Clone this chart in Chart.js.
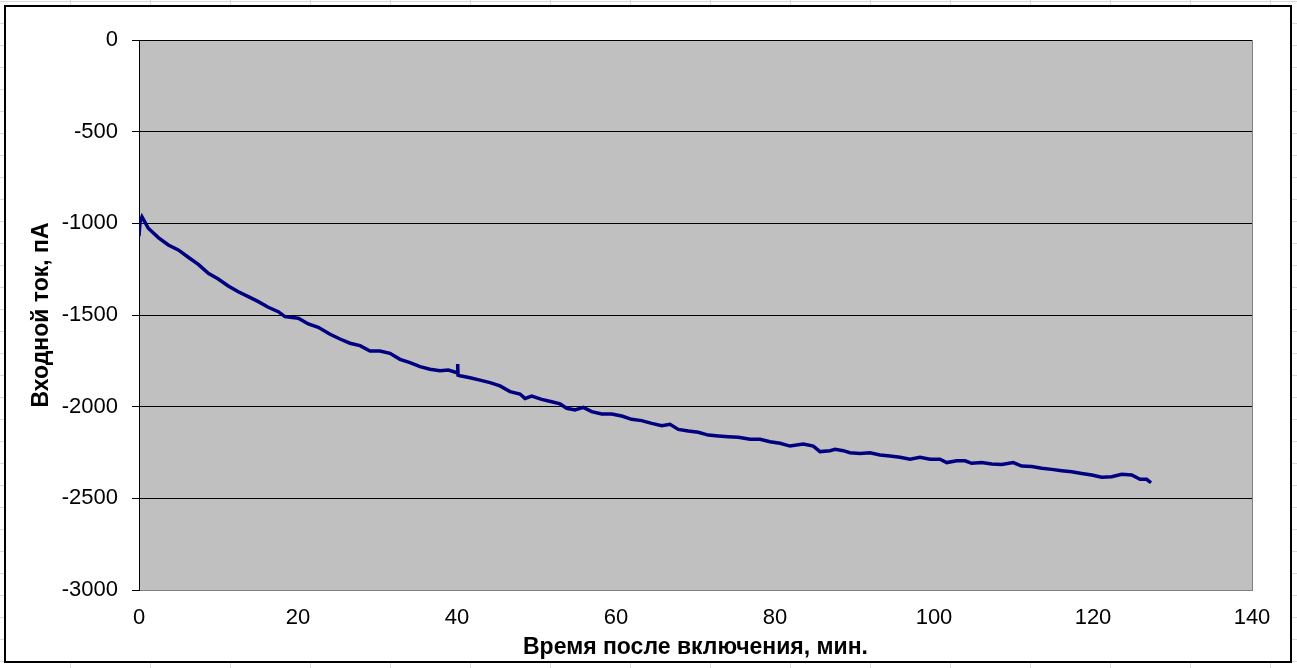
<!DOCTYPE html>
<html lang="ru">
<head>
<meta charset="utf-8">
<title>Входной ток</title>
<script src="https://cdn.jsdelivr.net/npm/chart.js@4.4.1/dist/chart.umd.min.js"></script>
<style>
  html, body {
    margin: 0;
    padding: 0;
    width: 1297px;
    height: 668px;
    overflow: hidden;
    font-family: "Liberation Sans", Arial, sans-serif;
    background-color: #fff;
    /* клетки листа Excel за диаграммой */
    background-image:
      linear-gradient(to right, #dadada 1px, transparent 1px),
      linear-gradient(to bottom, #dadada 1px, transparent 1px);
    background-size: 80px 100%, 100% 22px;
    background-position: 70px 0, 0 1px;
  }
  #ramka {
    position: absolute;
    left: 4px;
    top: 5px;
    width: 1284px;
    height: 654px;
    background: #fff;
    border: 2px solid #000;
  }
  #grafico {
    position: absolute;
    left: 0;
    top: 0;
  }
</style>
</head>
<body>
<div id="ramka"></div>
<canvas id="grafico" width="1297" height="668"></canvas>
<script>
// Время после включения, мин.
const tempoMin = [
  0.0, 0.13, 0.38, 1.17, 2.43, 3.69, 4.94, 6.20, 7.46, 8.72,
  9.97, 11.23, 12.49, 13.75, 15.01, 16.26, 17.52, 18.36, 20.04, 21.30,
  22.55, 24.03, 25.28, 26.54, 27.80, 29.06, 30.31, 31.57, 32.83, 34.09,
  35.35, 36.60, 37.86, 38.91, 40.00, 40.09, 40.13, 40.38, 41.64, 42.89,
  44.15, 45.41, 46.67, 47.92, 48.55, 49.40, 50.65, 51.91, 52.96, 53.80,
  54.84, 55.89, 56.94, 58.20, 59.46, 60.72, 61.97, 63.23, 64.49, 65.75,
  66.79, 67.84, 69.09, 70.35, 71.61, 72.87, 74.13, 75.38, 76.86, 78.11,
  79.37, 80.63, 81.89, 83.56, 84.82, 85.66, 86.92, 87.55, 88.59, 89.43,
  90.69, 91.95, 93.21, 94.47, 95.72, 96.98, 98.24, 99.50, 100.75, 101.60,
  102.86, 103.90, 104.74, 106.00, 107.26, 108.52, 109.97, 111.03, 112.29, 113.55,
  114.81, 116.06, 117.32, 118.58, 119.84, 121.09, 122.35, 123.61, 124.87, 125.91,
  126.75, 127.30
];

// Входной ток, пА
const corrente = [
  -1070, -993, -965, -1027, -1078, -1118, -1145, -1185, -1224, -1273,
  -1304, -1342, -1373, -1400, -1427, -1458, -1482, -1509, -1518, -1549,
  -1567, -1605, -1631, -1654, -1667, -1696, -1696, -1709, -1742, -1760,
  -1782, -1796, -1804, -1800, -1815, -1767, -1828, -1831, -1842, -1855,
  -1869, -1887, -1918, -1931, -1955, -1942, -1960, -1973, -1985, -2009,
  -2018, -2004, -2027, -2040, -2040, -2051, -2069, -2076, -2091, -2104,
  -2096, -2124, -2133, -2140, -2155, -2160, -2164, -2167, -2178, -2178,
  -2191, -2200, -2215, -2204, -2215, -2245, -2240, -2233, -2240, -2251,
  -2255, -2251, -2264, -2269, -2276, -2287, -2276, -2287, -2287, -2305,
  -2295, -2295, -2309, -2305, -2313, -2315, -2305, -2324, -2327, -2336,
  -2342, -2349, -2355, -2364, -2373, -2385, -2382, -2369, -2373, -2396,
  -2396, -2415
];

const tituloX = 'Время после включения, мин.';
const tituloY = 'Входной ток, пА';

const pontos = tempoMin.map((t, i) => ({ x: t, y: corrente[i] }));

// fundo cinza da área do gráfico
const fundoPlot = {
  id: 'fundoPlot',
  beforeDraw(chart) {
    const a = chart.chartArea;
    const ctx = chart.ctx;
    ctx.save();
    ctx.fillStyle = '#c0c0c0';
    ctx.fillRect(a.left, a.top, a.right - a.left, a.bottom - a.top);
    ctx.restore();
  }
};

const fonteTicks = { family: '"Liberation Sans", Arial, sans-serif', size: 22 };
const fonteTitulo = { family: '"Liberation Sans", Arial, sans-serif', size: 23, weight: 'bold' };

new Chart(document.getElementById('grafico').getContext('2d'), {
  type: 'line',
  data: {
    datasets: [{
      data: pontos,
      borderColor: '#000080',
      borderWidth: 3.5,
      pointRadius: 0,
      tension: 0,
      fill: false
    }]
  },
  options: {
    responsive: false,
    animation: false,
    devicePixelRatio: 1,
    layout: { padding: { left: 0, top: 40, right: 45, bottom: 0 } },
    plugins: {
      legend: { display: false },
      tooltip: { enabled: false }
    },
    scales: {
      x: {
        type: 'linear',
        min: 0,
        max: 140,
        afterFit(scale) { scale.height = 78; },
        ticks: {
          stepSize: 20,
          color: '#000',
          font: fonteTicks,
          padding: 15,
          maxRotation: 0
        },
        grid: {
          drawTicks: false,
          color: ctx => ctx.tick && ctx.tick.value === 140 ? '#808080' : 'rgba(0,0,0,0)'
        },
        border: { color: '#808080', width: 1 },
        title: {
          display: true,
          text: tituloX,
          color: '#000',
          font: fonteTitulo,
          padding: { top: 0, bottom: 7 }
        }
      },
      y: {
        min: -3000,
        max: 0,
        afterFit(scale) { scale.width = 139; },
        ticks: {
          stepSize: 500,
          color: '#000',
          font: fonteTicks,
          padding: 14,
          callback: v => String(v)
        },
        grid: {
          color: ctx => ctx.tick && ctx.tick.value === -3000 ? '#808080' : '#000',
          tickColor: '#000',
          tickLength: 7
        },
        border: { color: '#000', width: 1 },
        title: {
          display: true,
          text: tituloY,
          color: '#000',
          font: fonteTitulo,
          padding: { top: 28, bottom: 0 }
        }
      }
    }
  },
  plugins: [fundoPlot]
});
</script>
</body>
</html>
